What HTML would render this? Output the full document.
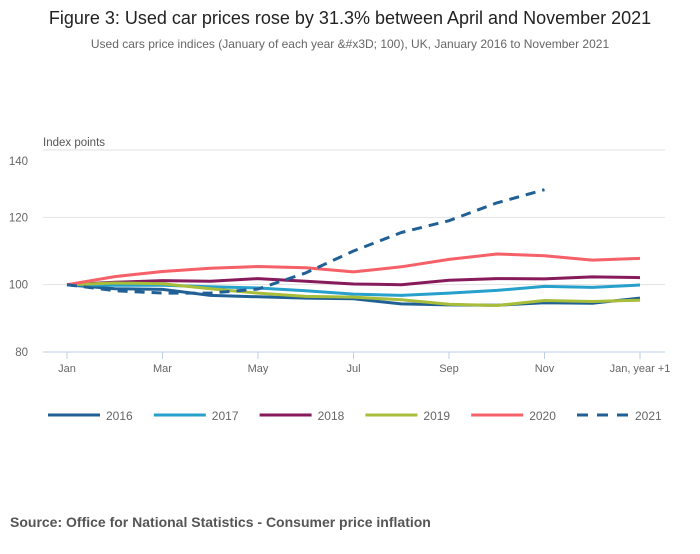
<!DOCTYPE html>
<html><head><meta charset="utf-8"><style>
body{margin:0;background:#fff;font-family:"Liberation Sans",sans-serif}
svg text{font-family:"Liberation Sans",sans-serif}
</style></head><body>
<svg width="700" height="549" xmlns="http://www.w3.org/2000/svg">
<text x="350" y="24" text-anchor="middle" font-size="18" fill="#222">Figure 3: Used car prices rose by 31.3% between April and November 2021</text>
<text x="350" y="48" text-anchor="middle" font-size="12" fill="#666">Used cars price indices (January of each year &amp;#x3D; 100), UK, January 2016 to November 2021</text>
<text x="43" y="146" font-size="11.5" fill="#555">Index points</text>
<g id="grid"></g><g id="xaxis"></g><g id="series"></g><g id="legend"></g>
<text x="10" y="527" font-size="14" font-weight="bold" fill="#555">Source: Office for National Statistics - Consumer price inflation</text>
</svg>
<script>
const months=["Jan","Feb","Mar","Apr","May","Jun","Jul","Aug","Sep","Oct","Nov","Dec","Jan, year +1"];
const tickLabels=["Jan","Mar","May","Jul","Sep","Nov","Jan, year +1"];
const yTicks=[80,100,120,140];
const seriesNames=["2016","2017","2018","2019","2020","2021"];
const s2016=[100,98.8,98.6,96.8,96.4,96.0,95.8,94.3,94.0,93.9,94.6,94.5,96.0];
const s2017=[100,99.8,99.8,99.4,99.0,98.2,97.2,96.8,97.5,98.3,99.5,99.2,99.9];
const s2018=[100,100.7,101.2,101.0,101.8,101.0,100.2,100.0,101.3,101.8,101.7,102.3,102.1];
const s2019=[100,100.5,100.3,98.8,97.5,96.5,96.3,95.5,94.2,93.8,95.3,95.0,95.4];
const s2020=[100,102.4,103.9,104.9,105.4,105.0,103.8,105.3,107.5,109.1,108.6,107.3,107.8];
const s2021=[100,98.2,97.5,97.5,98.7,103.5,110.0,115.5,119.0,124.3,128.2];
const colors=["#206095","#27a0cc","#871a5b","#a8bd3a","#f66068","#206095"];
const allSeries=[s2016,s2017,s2018,s2019,s2020,s2021];
const NS="http://www.w3.org/2000/svg";
const x=i=>67+i*(640-67)/12;
const y=v=>352-(v-80)*(202/60);
function mk(t,a,p){const e=document.createElementNS(NS,t);for(const k in a)e.setAttribute(k,a[k]);p.appendChild(e);return e;}
const grid=document.getElementById('grid');
yTicks.forEach((v,k)=>{
  const l=mk('line',{x1:43,x2:665,y1:y(v),y2:y(v),stroke:v===80?'#bfcfe6':'#e2e2e2','stroke-width':1},grid);
  
  
  const off=(k===yTicks.length-1)?15:4;
  const t=mk('text',{x:28,y:y(v)+off,'font-size':11.5,fill:'#666','text-anchor':'end'},grid);
  
  
  t.textContent=v;
});
const xa=document.getElementById('xaxis');
tickLabels.forEach((lab,k)=>{
  const i=k*2;
  const tk=mk('line',{x1:x(i),x2:x(i),y1:352,y2:359,stroke:'#bfcfe6'},xa);
  
  
  const t=mk('text',{x:x(i),y:372,'font-size':11,fill:'#666','text-anchor':'middle'},xa);
  
  
  t.textContent=lab;
});
const sg=document.getElementById('series');
allSeries.forEach((s,j)=>{
  const d=s.map((v,i)=>(i?'L':'M')+x(i).toFixed(1)+' '+y(v).toFixed(1)).join(' ');
  const a={d:d,fill:'none',stroke:colors[j],'stroke-width':3,'stroke-linejoin':'round'};
  if(j===5)a['stroke-dasharray']='10 7';
  const p=mk('path',a,sg);
  
  
});
const lg=document.getElementById('legend');
seriesNames.forEach((n,j)=>{
  const x0=48+j*105.8;
  const a={x1:x0,x2:x0+52,y1:415,y2:415,stroke:colors[j],'stroke-width':3};
  if(j===5)a['stroke-dasharray']='11 9';
  const l=mk('line',a,lg);
  
  
  const t=mk('text',{x:x0+58,y:420,'font-size':12,fill:'#666'},lg);
  
  
  t.textContent=n;
});
</script>
</body></html>
